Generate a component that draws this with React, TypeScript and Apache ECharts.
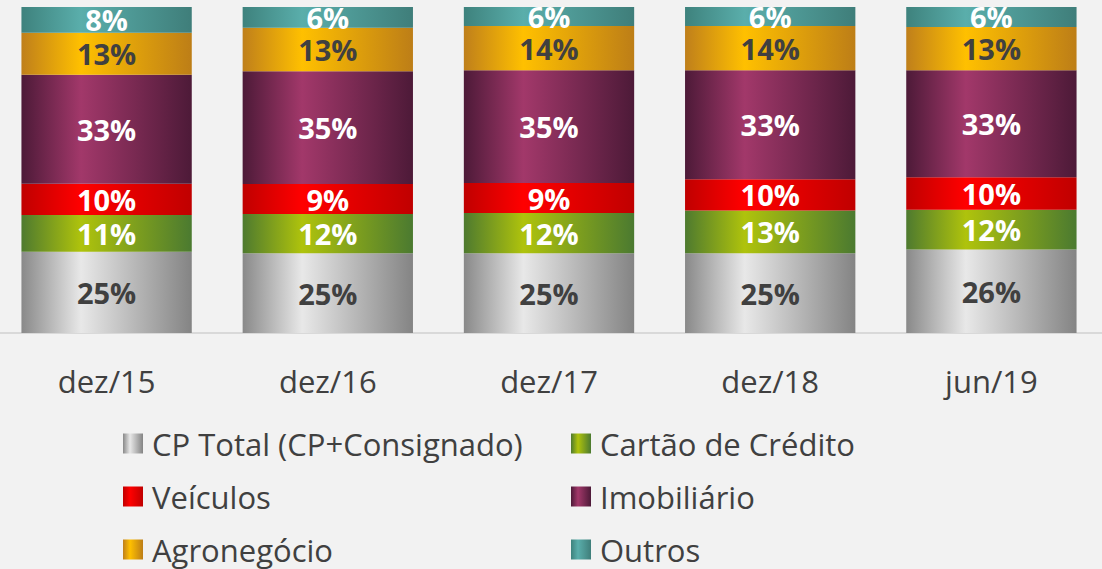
import React, { useEffect, useRef } from "react";
import * as echarts from "echarts";

const categories = ["dez/15", "dez/16", "dez/17", "dez/18", "jun/19"];

const seriesNames = [
  "CP Total (CP+Consignado)",
  "Cartão de Crédito",
  "Veículos",
  "Imobiliário",
  "Agronegócio",
  "Outros",
];

const cpTotal = [24.9, 24.5, 24.5, 24.5, 25.6];
const cartao = [11.3, 12.0, 12.3, 13.1, 12.2];
const veiculos = [9.6, 9.2, 9.2, 9.6, 10.0];
const imobiliario = [33.4, 34.6, 34.6, 33.4, 32.8];
const agronegocio = [12.9, 13.3, 13.6, 13.6, 13.3];
const outros = [7.9, 6.4, 5.8, 5.8, 6.1];

const seriesValues = [cpTotal, cartao, veiculos, imobiliario, agronegocio, outros];

const gradientStops: string[][] = [
  ["#898989", "#e8e8e8", "#848484"],
  ["#4e7a2f", "#afc30c", "#4b7a30"],
  ["#c00000", "#ff0000", "#c00000"],
  ["#4d1a38", "#a2386a", "#4d1a38"],
  ["#bf7f1b", "#ffc000", "#bd7e17"],
  ["#3e827d", "#5aaeab", "#3f7e7a"],
];

const labelColors = ["#404040", "#ffffff", "#ffffff", "#ffffff", "#404040", "#ffffff"];

const FONT = "'Open Sans', 'Noto Sans', sans-serif";
const SHIFT = 4; // container is shifted left by this many pixels

function grad(c: string[]) {
  return new echarts.graphic.LinearGradient(0, 0, 1, 0, [
    { offset: 0, color: c[0] },
    { offset: 0.35, color: c[1] },
    { offset: 1, color: c[2] },
  ]);
}

// legend layout: two columns, three rows
const legendPos = [
  { left: 123, row: 0 },
  { left: 571, row: 0 },
  { left: 123, row: 1 },
  { left: 571, row: 1 },
  { left: 123, row: 2 },
  { left: 571, row: 2 },
];

export default function App() {
  const ref = useRef<HTMLDivElement>(null);
  useEffect(() => {
    if (!ref.current) return;
    const chart = echarts.init(ref.current, null, { renderer: "svg" });
    const series = seriesNames.map((name, i) => ({
      name,
      type: "bar" as const,
      stack: "total",
      barCategoryGap: "23%",
      data: seriesValues[i],
      itemStyle: { color: grad(gradientStops[i]) },
      label: {
        show: true,
        position: "inside",
        color: labelColors[i],
        fontSize: 29,
        fontWeight: "bold",
        fontFamily: FONT,
        formatter: (p: any) => Math.round(p.value) + "%",
      },
    }));
    const legends = seriesNames.map((name, i) => ({
      data: [name],
      left: legendPos[i].left + SHIFT,
      top: 428 + legendPos[i].row * 53,
      padding: 0,
      itemWidth: 20,
      itemHeight: 20,
      icon: "rect",
      selectedMode: false,
      textStyle: { fontSize: 31, color: "#404040", fontFamily: FONT, padding: [0, 0, 0, 4] },
    }));
    chart.setOption({
      animation: false,
      backgroundColor: "#f2f2f2",
      legend: legends,
      grid: { left: 0, width: 1108, top: 7, height: 326, containLabel: false },
      xAxis: {
        type: "category",
        data: categories,
        axisLine: { show: true, lineStyle: { color: "#d9d9d9", width: 2 } },
        axisTick: { show: false },
        axisLabel: { fontSize: 31, color: "#404040", fontFamily: FONT, margin: 32 },
      },
      yAxis: {
        type: "value",
        min: 0,
        max: 100,
        show: false,
        splitLine: { show: false },
      },
      series,
    });
    return () => chart.dispose();
  }, []);
  return (
    <div
      ref={ref}
      style={{ position: "absolute", left: -SHIFT, top: 0, width: 1102 + SHIFT, height: 569 }}
    />
  );
}
